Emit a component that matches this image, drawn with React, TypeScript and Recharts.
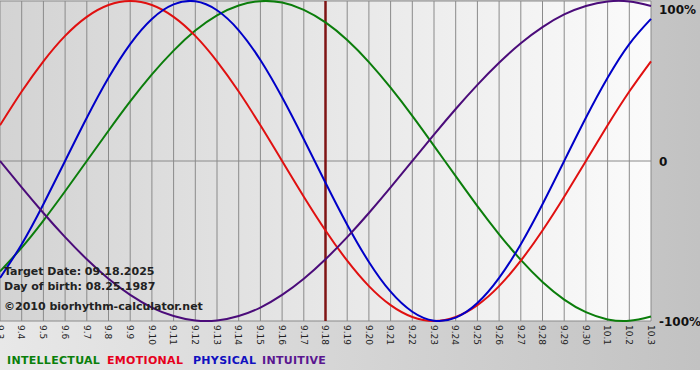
import { LineChart, Line, XAxis, YAxis, CartesianGrid, ReferenceLine } from "recharts";

// days shown on the x axis (9.3 .. 10.3)
const dayLabels = [
  "9.3", "9.4", "9.5", "9.6", "9.7", "9.8", "9.9", "9.10", "9.11", "9.12", "9.13",
  "9.14", "9.15", "9.16", "9.17", "9.18", "9.19", "9.20", "9.21", "9.22", "9.23",
  "9.24", "9.25", "9.26", "9.27", "9.28", "9.29", "9.30", "10.1", "10.2", "10.3",
];

// cycle values, -1 .. 1
const intellectual = [
  -0.690, -0.541, -0.372, -0.189, 0, 0.189, 0.372, 0.541, 0.690, 0.815, 0.910, 0.972, 0.999, 0.990, 0.945,
  0.866, 0.756, 0.618, 0.458, 0.282, 0.095, -0.095, -0.282, -0.458, -0.618, -0.756, -0.866, -0.945, -0.990,
  -0.999, -0.972,
];
const emotional = [
  0.223, 0.434, 0.623, 0.782, 0.901, 0.975, 1.0, 0.975, 0.901, 0.782, 0.623, 0.434, 0.223, 0, -0.223,
  -0.434, -0.623, -0.782, -0.901, -0.975, -1.0, -0.975, -0.901, -0.782, -0.623, -0.434, -0.223, 0, 0.223,
  0.434, 0.623,
];
const physical = [
  -0.731, -0.520, -0.270, 0, 0.270, 0.520, 0.731, 0.888, 0.979, 0.998, 0.942, 0.817, 0.631, 0.398, 0.136,
  -0.136, -0.398, -0.631, -0.817, -0.942, -0.998, -0.979, -0.888, -0.731, -0.520, -0.270, 0, 0.270, 0.520,
  0.731, 0.888,
];
const intuitive = [
  0, -0.165, -0.325, -0.476, -0.614, -0.736, -0.837, -0.916, -0.969, -0.997, -0.997, -0.969, -0.916, -0.837,
  -0.736, -0.614, -0.476, -0.325, -0.165, 0, 0.165, 0.325, 0.476, 0.614, 0.736, 0.837, 0.916, 0.969, 0.997,
  0.997, 0.969,
];

const yTicks = [-1, 0, 1];
const yTickLabels = ["-100%", "0", "100%"];
const targetIndex = 15; // 9.18

const series = [
  { key: "intellectual", name: "INTELLECTUAL", color: "#0b7d0b", text: "#0a7f0a", left: 7 },
  { key: "emotional", name: "EMOTIONAL", color: "#e01010", text: "#e6001c", left: 107 },
  { key: "physical", name: "PHYSICAL", color: "#0000c8", text: "#1010c0", left: 193 },
  { key: "intuitive", name: "INTUITIVE", color: "#4b0c7a", text: "#5a1690", left: 262 },
];

const data = dayLabels.map((label, i) => ({
  i,
  label,
  intellectual: intellectual[i],
  emotional: emotional[i],
  physical: physical[i],
  intuitive: intuitive[i],
}));

const font = "'DejaVu Sans', Verdana, sans-serif";

function DayTick({ x, y, payload }: any) {
  return (
    <text
      transform={`translate(${x - 3.3},${y}) rotate(90)`}
      fontSize={9}
      fontFamily={font}
      fill="#222"
      textAnchor="start"
    >
      {dayLabels[payload.value]}
    </text>
  );
}

function PercentTick({ x, y, payload }: any) {
  const idx = yTicks.indexOf(payload.value);
  return (
    <text
      x={x}
      y={Math.max(y, 7)}
      dy={4.5}
      fontSize={12}
      fontWeight="bold"
      fontFamily={font}
      fill="#111"
      textAnchor="start"
    >
      {yTickLabels[idx]}
    </text>
  );
}

const noteStyle: React.CSSProperties = {
  position: "absolute",
  left: 4,
  fontFamily: font,
  fontSize: 11,
  fontWeight: "bold",
  color: "#222",
  lineHeight: "13px",
  whiteSpace: "nowrap",
};

export default function App() {
  return (
    <div style={{ position: "absolute", left: 0, top: 0, width: 700, height: 380, background: "#fff" }}>
      <div
        style={{
          position: "absolute",
          left: 0,
          top: 0,
          width: 700,
          height: 370,
          background: "linear-gradient(to right, #e8e8e8, #c2c2c2)",
        }}
      />
      <LineChart
        width={700}
        height={370}
        data={data}
        margin={{ top: 1, right: 0, bottom: 0, left: 0 }}
        style={{ position: "absolute", left: 0, top: 0 }}
      >
        <defs>
          <linearGradient id="plotBg" x1="0" y1="0" x2="1" y2="0">
            <stop offset="0" stopColor="#d3d3d3" />
            <stop offset="1" stopColor="#fbfbfb" />
          </linearGradient>
        </defs>
        <CartesianGrid stroke="#8a8a8a" fill="url(#plotBg)" fillOpacity={1} />
        <XAxis
          type="number"
          dataKey="i"
          domain={[0, dayLabels.length - 1]}
          ticks={dayLabels.map((_, i) => i)}
          interval={0}
          height={49}
          axisLine={false}
          tickLine={false}
          tickSize={0}
          tickMargin={4}
          tick={<DayTick />}
        />
        <YAxis
          orientation="right"
          domain={[-1, 1]}
          ticks={yTicks}
          width={49}
          axisLine={false}
          tickLine={false}
          tickSize={0}
          tickMargin={8}
          tick={<PercentTick />}
        />
        <ReferenceLine x={targetIndex} stroke="#7f1414" strokeWidth={2.5} />
        {series.map((s) => (
          <Line
            key={s.key}
            dataKey={s.key}
            type="natural"
            stroke={s.color}
            strokeWidth={2}
            dot={false}
            activeDot={false}
            isAnimationActive={false}
          />
        ))}
      </LineChart>
      <div style={{ ...noteStyle, top: 265 }}>Target Date: 09.18.2025</div>
      <div style={{ ...noteStyle, top: 280 }}>Day of birth: 08.25.1987</div>
      <div style={{ ...noteStyle, top: 300 }}>©2010 biorhythm-calculator.net</div>
      {series.map((s) => (
        <div
          key={s.key}
          style={{
            position: "absolute",
            left: s.left,
            top: 354,
            fontFamily: font,
            fontSize: 11,
            fontWeight: "bold",
            letterSpacing: 0.3,
            lineHeight: "14px",
            whiteSpace: "nowrap",
            color: s.text,
          }}
        >
          {s.name}
        </div>
      ))}
    </div>
  );
}
